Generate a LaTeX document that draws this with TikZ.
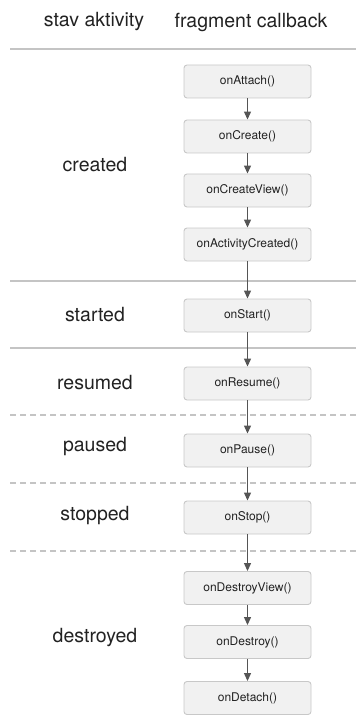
\documentclass[tikz,border=0pt]{standalone}
\usepackage{fontspec}
\setmainfont{TeX Gyre Heros}
\usetikzlibrary{arrows.meta}
\definecolor{rulegray}{HTML}{C4C4C4}
\definecolor{boxfill}{HTML}{F1F1F1}
\definecolor{boxline}{HTML}{C8C8C8}
\definecolor{flow}{HTML}{555555}
\definecolor{ink}{HTML}{222222}
\tikzset{
  cb/.style={draw=boxline, fill=boxfill, rounded corners=3pt, line width=0.9pt,
    minimum width=127pt, minimum height=33pt, inner sep=0pt,
    font=\fontsize{12}{14}\selectfont, text=ink},
  statelabel/.style={font=\fontsize{19.5}{22}\selectfont, text=ink, inner sep=0pt},
  sep/.style={draw=rulegray, line width=1.1pt},
  sepdash/.style={draw=rulegray, line width=1.1pt, dash pattern=on 6pt off 4pt},
  flowarrow/.style={draw=flow, line width=1.2pt, -{Triangle[length=8pt,width=7pt]}}
}
\begin{document}
\begin{tikzpicture}[x=1pt,y=-1pt]
\useasboundingbox (0,0) rectangle (356,722);

% column headings
\node[statelabel] (h1) at (94,22) {stav aktivity};
\node[statelabel] (h2) at (251,22) {fragment callback};

% section separators
\coordinate (s0a) at (10,49);  \coordinate (s0b) at (356,49);
\coordinate (s1a) at (10,281); \coordinate (s1b) at (356,281);
\coordinate (s2a) at (10,348); \coordinate (s2b) at (356,348);
\coordinate (s3a) at (10,415); \coordinate (s3b) at (356,415);
\coordinate (s4a) at (10,483); \coordinate (s4b) at (356,483);
\coordinate (s5a) at (10,551); \coordinate (s5b) at (356,551);
\draw[sep] (s0a) -- (s0b);
\draw[sep] (s1a) -- (s1b);
\draw[sep] (s2a) -- (s2b);
\draw[sepdash] (s3a) -- (s3b);
\draw[sepdash] (s4a) -- (s4b);
\draw[sepdash] (s5a) -- (s5b);

% activity states
\node[statelabel] (created)   at (95,165) {created};
\node[statelabel] (started)   at (95,315) {started};
\node[statelabel] (resumed)   at (95,383) {resumed};
\node[statelabel] (paused)    at (95,447) {paused};
\node[statelabel] (stopped)   at (95,516) {stopped};
\node[statelabel] (destroyed) at (95,638) {destroyed};

% fragment callbacks
\node[cb] (attach)   at (247.5,81.5)  {onAttach()};
\node[cb] (create)   at (247.5,136.5) {onCreate()};
\node[cb] (cview)    at (247.5,190.5) {onCreateView()};
\node[cb] (acreated) at (247.5,244.5) {onActivityCreated()};
\node[cb] (start)    at (247.5,315.5) {onStart()};
\node[cb] (resume)   at (247.5,383.5) {onResume()};
\node[cb] (pause)    at (247.5,450.5) {onPause()};
\node[cb] (stop)     at (247.5,517.5) {onStop()};
\node[cb] (dview)    at (247.5,588)   {onDestroyView()};
\node[cb] (destroy)  at (247.5,642)   {onDestroy()};
\node[cb] (detach)   at (247.5,698)   {onDetach()};

% call order
\draw[flowarrow] (attach) -- (create);
\draw[flowarrow] (create) -- (cview);
\draw[flowarrow] (cview) -- (acreated);
\draw[flowarrow] (acreated) -- (start);
\draw[flowarrow] (start) -- (resume);
\draw[flowarrow] (resume) -- (pause);
\draw[flowarrow] (pause) -- (stop);
\draw[flowarrow] (stop) -- (dview);
\draw[flowarrow] (dview) -- (destroy);
\draw[flowarrow] (destroy) -- (detach);
\end{tikzpicture}
\end{document}
